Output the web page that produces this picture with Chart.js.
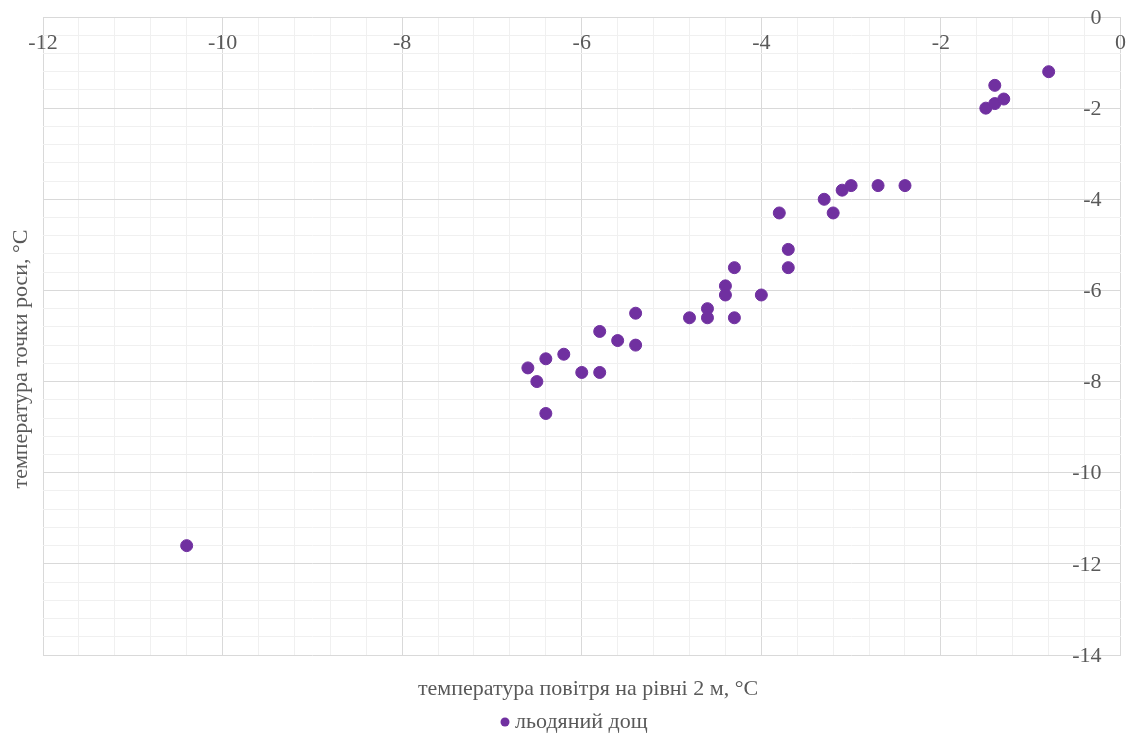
<!DOCTYPE html>
<html>
<head>
<meta charset="utf-8">
<script src="https://cdn.jsdelivr.net/npm/chart.js@4"></script>
<style>
  body { margin: 0; background: #fff; }
  canvas { display: block; }
</style>
</head>
<body>
<canvas id="scatterChart" width="1134" height="733"></canvas>
<script>
// air temperature at 2 m, °C
const airTemp = [-10.4, -6.6, -6.5, -6.4, -6.4, -6.2, -6.0, -5.8, -5.8, -5.6, -5.4, -5.4,
  -4.8, -4.6, -4.6, -4.4, -4.4, -4.3, -4.3, -4.0, -3.8, -3.7, -3.7, -3.3, -3.2, -3.1,
  -3.0, -2.7, -2.4, -1.5, -1.4, -1.4, -1.3, -0.8];
// dew point, °C
const dewPoint = [-11.6, -7.7, -8.0, -7.5, -8.7, -7.4, -7.8, -7.8, -6.9, -7.1, -6.5, -7.2,
  -6.6, -6.4, -6.6, -5.9, -6.1, -5.5, -6.6, -6.1, -4.3, -5.1, -5.5, -4.0, -4.3, -3.8,
  -3.7, -3.7, -3.7, -2.0, -1.9, -1.5, -1.8, -1.2];

const seriesName = "льодяний дощ";
const xTitle = "температура повітря на рівні 2 м, °C";
const yTitle = "температура точки роси, °C";
const xTickLabels = [-12, -10, -8, -6, -4, -2, 0];
const yTickLabels = [0, -2, -4, -6, -8, -10, -12, -14];

const textColor = "#595959";
const purple = "#7030A0";
const serif = "'Liberation Serif', 'Times New Roman', serif";

const points = airTemp.map((x, i) => ({ x: x, y: dewPoint[i] }));

function isMajor(v) {
  return Math.abs(v / 2 - Math.round(v / 2)) < 1e-6;
}

// tick labels, axis titles and legend, placed like the Excel original
const labelsPlugin = {
  id: "excelLabels",
  afterDraw(chart) {
    const ctx = chart.ctx;
    const xs = chart.scales.x;
    const ys = chart.scales.y;
    const y0 = ys.getPixelForValue(0);
    const x0 = xs.getPixelForValue(0);
    ctx.save();
    ctx.fillStyle = textColor;
    ctx.font = "22px " + serif;

    // x labels sit under the axis line at y = 0
    ctx.textAlign = "center";
    ctx.textBaseline = "middle";
    xTickLabels.forEach(v => {
      ctx.fillText(String(v), xs.getPixelForValue(v), y0 + 26);
    });

    // y labels sit left of the axis line at x = 0
    ctx.textAlign = "right";
    yTickLabels.forEach(v => {
      ctx.fillText(String(v), x0 - 19, ys.getPixelForValue(v) + 1);
    });

    // axis titles
    ctx.textAlign = "center";
    ctx.fillText(xTitle, 588, 689);
    ctx.save();
    ctx.translate(21, 359);
    ctx.rotate(-Math.PI / 2);
    ctx.fillText(yTitle, 0, 0);
    ctx.restore();

    // legend
    ctx.fillStyle = purple;
    ctx.beginPath();
    ctx.arc(505, 722, 4.5, 0, Math.PI * 2);
    ctx.fill();
    ctx.fillStyle = textColor;
    ctx.textAlign = "left";
    ctx.fillText(seriesName, 515, 722);
    ctx.restore();
  }
};

const ctx = document.getElementById("scatterChart").getContext("2d");
new Chart(ctx, {
  type: "scatter",
  data: {
    datasets: [{
      label: seriesName,
      data: points,
      backgroundColor: purple,
      borderColor: purple,
      pointRadius: 6,
      pointHoverRadius: 6
    }]
  },
  options: {
    responsive: false,
    animation: false,
    layout: { padding: { left: 43, right: 13.5, top: 17, bottom: 78 } },
    plugins: {
      legend: { display: false },
      tooltip: { enabled: false }
    },
    scales: {
      x: {
        type: "linear",
        position: "top",
        min: -12,
        max: 0,
        ticks: { display: false, stepSize: 0.4 },
        border: { display: false },
        grid: {
          drawTicks: false,
          color: c => isMajor(c.tick.value) ? "#d9d9d9" : "#f0f0f0",
          lineWidth: 1
        }
      },
      y: {
        type: "linear",
        position: "right",
        min: -14,
        max: 0,
        ticks: { display: false, stepSize: 0.4 },
        border: { display: false },
        grid: {
          drawTicks: false,
          color: c => isMajor(c.tick.value) ? "#d9d9d9" : "#f0f0f0",
          lineWidth: 1
        }
      }
    }
  },
  plugins: [labelsPlugin]
});
</script>
</body>
</html>
